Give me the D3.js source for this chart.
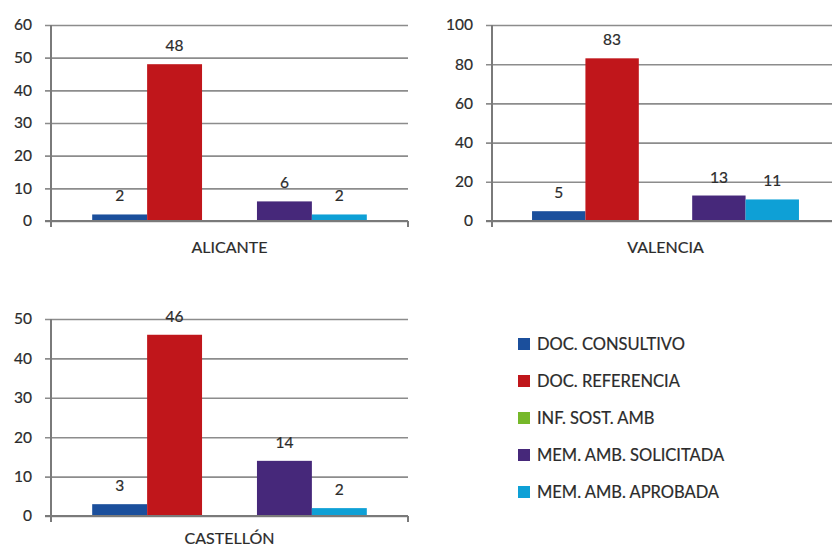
<!DOCTYPE html>
<html>
<head>
<meta charset="utf-8"/>
<script src="https://d3js.org/d3.v7.min.js"></script>
<style>
  body { margin: 0; background: #fff; }
  text { font-family: Lato, "Open Sans", sans-serif; fill: #2b2b2b; stroke: #2b2b2b; stroke-width: 0.2px; }
</style>
</head>
<body>
<div id="chart"></div>
<script>
// series shown in every panel
var series = ["DOC. CONSULTIVO", "DOC. REFERENCIA", "INF. SOST. AMB", "MEM. AMB. SOLICITADA", "MEM. AMB. APROBADA"];
var colors = ["#1b4f9c", "#c0161b", "#76b82a", "#46287a", "#0ea0d6"];

// one panel per province
var provinces = ["ALICANTE", "VALENCIA", "CASTELLÓN"];
var alicante = [2, 48, 0, 6, 2];
var valencia = [5, 83, 0, 13, 11];
var castellon = [3, 46, 0, 14, 2];
var yMax = [60, 100, 50];
var yStep = [10, 20, 10];

var values = [alicante, valencia, castellon];

// panel frames (plot area in px), labelY = baseline of province name
var frames = [
    {left: 51, right: 408, top: 25, bottom: 221, labelY: 253},
    {left: 492, right: 839, top: 25, bottom: 221, labelY: 253},
    {left: 51, right: 408, top: 319, bottom: 516, labelY: 544}
];

var svg = d3.select("#chart").append("svg")
    .attr("width", 832)
    .attr("height", 548);

provinces.forEach(function(name, i) {
    var f = frames[i];
    var w = f.right - f.left;

    var x = d3.scaleBand()
        .domain(series)
        .range([f.left, f.right])
        .paddingInner(0)
        .paddingOuter(0.75);

    var y = d3.scaleLinear()
        .domain([0, yMax[i]])
        .range([f.bottom, f.top]);

    var g = svg.append("g");

    // gridlines + tick labels
    var yAxis = g.append("g")
        .attr("transform", "translate(" + f.left + ",0)")
        .call(d3.axisLeft(y)
            .tickValues(d3.range(0, yMax[i] + 1, yStep[i]))
            .tickSize(-w)
            .tickPadding(19));
    yAxis.select(".domain").remove();
    yAxis.selectAll(".tick line")
        .attr("x1", -6)
        .attr("x2", w)
        .attr("stroke", "#8c8c8c")
        .attr("stroke-width", 1.6);
    yAxis.selectAll(".tick text")
        .style("font-size", "15.5px")
        .style("font-family", "Lato, sans-serif")
        .attr("fill", "#2b2b2b");

    // vertical axis line
    g.append("line")
        .attr("x1", f.left).attr("x2", f.left)
        .attr("y1", f.top).attr("y2", f.bottom + 6)
        .attr("stroke", "#7a7a7a")
        .attr("stroke-width", 2);

    // category end tick on the right
    g.append("line")
        .attr("x1", f.right).attr("x2", f.right)
        .attr("y1", f.bottom).attr("y2", f.bottom + 6)
        .attr("stroke", "#7a7a7a")
        .attr("stroke-width", 2);

    // bars
    g.selectAll("rect")
        .data(values[i])
        .enter()
        .append("rect")
            .attr("x", function(d, j) { return x(series[j]); })
            .attr("y", function(d) { return y(d); })
            .attr("width", x.bandwidth())
            .attr("height", function(d) { return f.bottom - y(d); })
            .attr("fill", function(d, j) { return colors[j]; });

    // baseline drawn over the bars
    g.append("line")
        .attr("x1", f.left - 6).attr("x2", f.right)
        .attr("y1", f.bottom).attr("y2", f.bottom)
        .attr("stroke", "#7a7a7a")
        .attr("stroke-width", 2);

    // value labels (skip empty series)
    var labelled = values[i]
        .map(function(v, j) { return {v: v, s: series[j]}; })
        .filter(function(d) { return d.v > 0; });
    g.selectAll(".val")
        .data(labelled)
        .enter()
        .append("text")
            .attr("class", "val")
            .attr("x", function(d) { return x(d.s) + x.bandwidth() / 2; })
            .attr("y", function(d) { return y(d.v) - 13; })
            .attr("text-anchor", "middle")
            .style("font-size", "15.5px")
            .text(function(d) { return d.v; });

    // province name
    g.append("text")
        .attr("x", (f.left + f.right) / 2)
        .attr("y", f.labelY)
        .attr("text-anchor", "middle")
        .style("font-size", "16px")
        .text(name);
});

// legend
var legend = svg.append("g").attr("transform", "translate(518,344)");
series.forEach(function(s, j) {
    var row = legend.append("g").attr("transform", "translate(0," + (j * 37) + ")");
    row.append("rect")
        .attr("x", 0).attr("y", -6)
        .attr("width", 12).attr("height", 12)
        .attr("fill", colors[j]);
    row.append("text")
        .attr("x", 19)
        .attr("y", 6)
        .style("font-size", "16.5px")
        .text(s);
});
</script>
</body>
</html>
